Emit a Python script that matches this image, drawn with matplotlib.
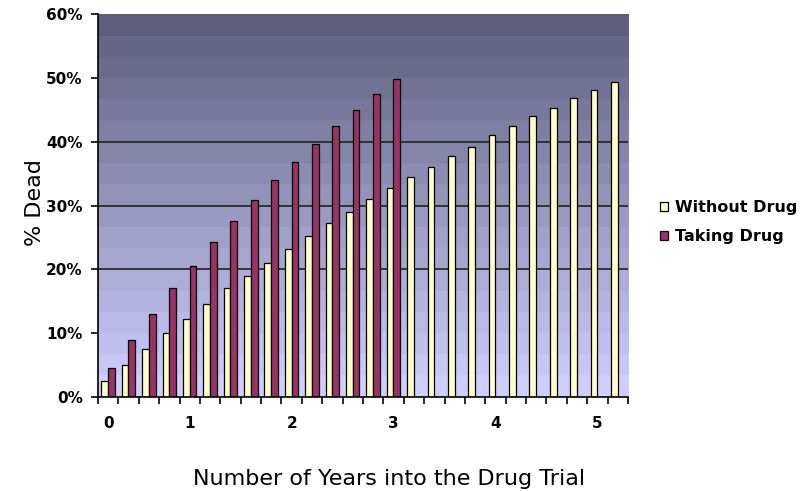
import matplotlib.pyplot as plt
import numpy as np
from matplotlib.ticker import FixedLocator, PercentFormatter

plt.rcParams['font.family'] = ['DejaVu Sans']

# % dead per period (26 periods), taking-drug series stops after 15
without_drug = [2.5, 5, 7.5, 10, 12.2, 14.5, 17, 19, 21, 23.2, 25.3, 27.2, 29, 31,
                32.8, 34.4, 36, 37.7, 39.2, 41, 42.5, 44, 45.3, 46.8, 48.1, 49.3]
taking_drug = [4.5, 8.9, 13, 17, 20.6, 24.3, 27.6, 30.8, 34, 36.8, 39.6, 42.5,
               44.9, 47.5, 49.8]
year_labels = ['0', '1', '2', '3', '4', '5']
year_positions = [0, 4, 9, 14, 19, 24]

fig = plt.figure(figsize=(8.02, 4.91), dpi=100)
ax = fig.add_axes([98 / 802, 94 / 491, 530 / 802, 383 / 491])

n = len(without_drug)
ax.set_xlim(-0.5, n - 0.5)
ax.set_ylim(0, 60)

# banded gradient background, dark at top to lavender at bottom
top = np.array([88, 88, 118]) / 255
bottom = np.array([206, 206, 255]) / 255
steps = 18
t = np.floor(np.linspace(0, 1, 400) * steps) / steps
t = np.clip(t, 0, 1)
grad = bottom[None, :] * (1 - t[:, None]) + top[None, :] * t[:, None]
ax.imshow(grad[:, None, :], extent=[-0.5, n - 0.5, 0, 60], origin='lower',
          aspect='auto', zorder=0)

for y in [20, 30, 40]:
    ax.axhline(y, color='#222222', lw=1.2, zorder=1)

x = np.arange(n)
w = 0.33
ax.bar(x - 0.17, without_drug, width=w, color='#FFFFCC', edgecolor='black',
       linewidth=0.9, label='Without Drug', zorder=2)
ax.bar(np.arange(len(taking_drug)) + 0.16, taking_drug, width=w, color='#993366',
       edgecolor='black', linewidth=0.9, label='Taking Drug', zorder=2)

for s in ['top', 'right']:
    ax.spines[s].set_visible(False)
ax.spines['left'].set_linewidth(1.2)
ax.spines['bottom'].set_linewidth(1.2)

ax.set_yticks(range(0, 61, 10))
ax.yaxis.set_major_formatter(PercentFormatter(decimals=0))
ax.tick_params(axis='y', length=5, width=1.2, labelsize=11, pad=6)
for lab in ax.get_yticklabels():
    lab.set_fontweight('bold')

ax.set_xticks(year_positions)
ax.set_xticklabels(year_labels, fontsize=11, fontweight='bold')
ax.tick_params(axis='x', length=0, pad=14)
ax.xaxis.set_minor_locator(FixedLocator(np.arange(-0.5, n, 1.0)))
ax.tick_params(axis='x', which='minor', length=5, width=1.2)

fig.text(35 / 802, 1 - 203 / 491, '% Dead', fontsize=16, rotation=90,
         ha='center', va='center')
fig.text(389 / 802, 1 - 479 / 491, 'Number of Years into the Drug Trial',
         fontsize=16, ha='center', va='center')

ax.legend(loc='center left', bbox_to_anchor=(652 / 802, 1 - 222 / 491),
          bbox_transform=fig.transFigure, frameon=False, borderpad=0,
          prop={'weight': 'bold', 'size': 11.5}, handlelength=0.5,
          handleheight=0.5, handletextpad=0.45, labelspacing=0.9)

fig.savefig('out.png', dpi=100)
